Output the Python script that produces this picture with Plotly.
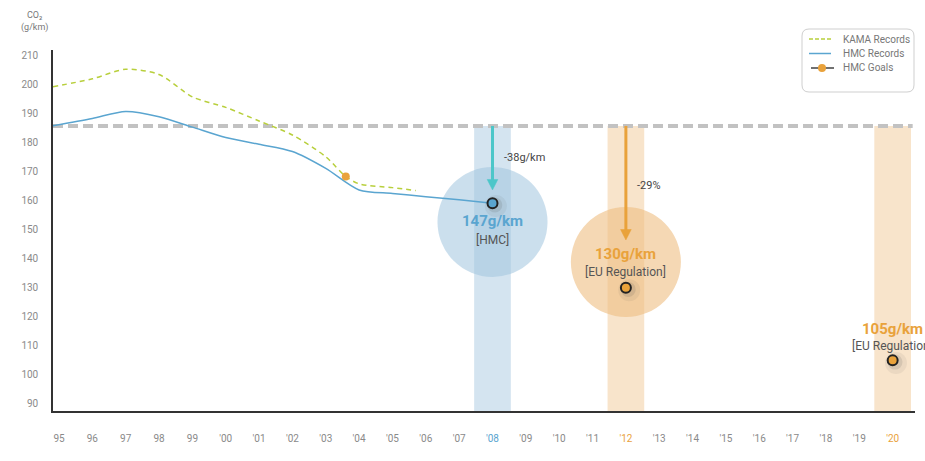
import plotly.graph_objects as go

# ---- data -------------------------------------------------------------
kama_years = [1994.82, 1996, 1997, 1998, 1999, 2000, 2001, 2002, 2003, 2003.6, 2004, 2005, 2005.7]
kama_vals = [199.1, 201.8, 205.1, 203.3, 195.6, 192.0, 187.3, 182.5, 175.0, 168.2, 165.7, 164.4, 163.4]

hmc_years = [1994.82, 1996, 1997, 1998, 1999, 2000, 2001, 2002, 2003, 2004, 2005, 2006, 2007, 2008]
hmc_vals = [185.7, 188.2, 190.6, 188.8, 185.2, 181.6, 179.3, 176.8, 171.0, 163.6, 162.4, 161.3, 160.2, 159.0]

goal_years = [2003.6, 2012, 2020]
goal_vals = [168.2, 130, 105]

baseline = 185.6           # reference level for the reduction arrows
target_hmc = 147           # 2008 HMC figure
target_eu12 = 130
target_eu20 = 105
arrow_tips = [163.6, 146.4]

tick_years = list(range(1995, 2021))
tick_labels = ["95", "96", "97", "98", "99", "'00", "'01", "'02", "'03", "'04", "'05", "'06", "'07",
               "'08", "'09", "'10", "'11", "'12", "'13", "'14", "'15", "'16", "'17", "'18", "'19", "'20"]
y_ticks = list(range(90, 211, 10))

# ---- style ------------------------------------------------------------
KAMA_C = "#b8cf3c"
HMC_C = "#5aa5d0"
ORANGE = "#e9a23b"
TEAL = "#4cc6c9"
GREY_TXT = "#8a8a8a"
FONT = "Roboto"

X_RANGE = [1994.82, 2020.67]
Y_RANGE = [87.59, 211.72]

hl = {"2008": HMC_C, "2012": ORANGE, "2020": ORANGE}
ticktext = []
for yr, lab in zip(tick_years, tick_labels):
    c = hl.get(str(yr))
    ticktext.append(f"<span style='color:{c}'>{lab}</span>" if c else lab)

fig = go.Figure()

# lines
fig.add_trace(go.Scatter(x=kama_years, y=kama_vals, mode="lines", name="KAMA Records",
                         line=dict(color=KAMA_C, width=1.5, dash="5px,4px", shape="spline", smoothing=0.8),
                         hoverinfo="skip"))
fig.add_trace(go.Scatter(x=hmc_years, y=hmc_vals, mode="lines", name="HMC Records",
                         line=dict(color=HMC_C, width=1.5, shape="spline", smoothing=0.8),
                         hoverinfo="skip"))

# soft shadows under the goal points
sh_x = [hmc_years[-1]] + goal_years[1:]
sh_y = [hmc_vals[-1]] + goal_vals[1:]
fig.add_trace(go.Scatter(x=[v + 0.1 for v in sh_x], y=[v - 0.9 for v in sh_y], mode="markers",
                         marker=dict(size=22, color="rgba(70,70,70,0.07)"), hoverinfo="skip"))
fig.add_trace(go.Scatter(x=[v + 0.07 for v in sh_x], y=[v - 0.6 for v in sh_y], mode="markers",
                         marker=dict(size=15, color="rgba(70,70,70,0.13)"), hoverinfo="skip"))

# markers
fig.add_trace(go.Scatter(x=[hmc_years[-1]], y=[hmc_vals[-1]], mode="markers",
                         marker=dict(size=10, color=HMC_C, line=dict(color="#222", width=2)),
                         hoverinfo="skip"))
fig.add_trace(go.Scatter(x=goal_years[1:], y=goal_vals[1:], mode="markers",
                         marker=dict(size=10, color=ORANGE, line=dict(color="#222", width=2)),
                         hoverinfo="skip"))
fig.add_trace(go.Scatter(x=goal_years[:1], y=goal_vals[:1], mode="markers",
                         marker=dict(size=8, color=ORANGE), hoverinfo="skip"))

shapes = []
# vertical bands
for yr, col in [(2008, "rgba(160,196,222,0.45)"), (2012, "rgba(238,190,130,0.42)"),
                (2020, "rgba(238,190,130,0.42)")]:
    shapes.append(dict(type="rect", xref="x", yref="y", x0=yr - 0.55, x1=yr + 0.55,
                       y0=Y_RANGE[0], y1=baseline, fillcolor=col, line_width=0, layer="below"))
# circles
rx, ry = 1.65, 18.9
for cx, cy, col in [(2008, 152.6, "rgba(160,196,222,0.55)"), (2012, 138.8, "rgba(238,190,130,0.6)")]:
    shapes.append(dict(type="circle", xref="x", yref="y", x0=cx - rx, x1=cx + rx,
                       y0=cy - ry, y1=cy + ry, fillcolor=col, line_width=0, layer="below"))
# baseline
shapes.append(dict(type="line", xref="x", yref="y", x0=X_RANGE[0], x1=2020.6, y0=baseline, y1=baseline,
                   line=dict(color="#c2c2c2", width=4, dash="10px,5px"), layer="below"))

# reduction arrows (shaft + triangular head)
head_len, head_half = 3.6, 0.16
for xx, tip, col in [(2008, arrow_tips[0], TEAL), (2012, arrow_tips[1], ORANGE)]:
    shapes.append(dict(type="line", xref="x", yref="y", x0=xx, x1=xx, y0=baseline, y1=tip + head_len * 0.7,
                       line=dict(color=col, width=3)))
    shapes.append(dict(type="path", xref="x", yref="y",
                       path=f"M {xx - head_half},{tip + head_len} L {xx + head_half},{tip + head_len} "
                            f"L {xx},{tip} Z",
                       fillcolor=col, line=dict(color=col, width=0.5)))

# legend box (pixel -> paper)
PL, PW, PT, PH = 53, 862, 50, 361
def px(x):
    return (x - PL) / PW
def py(y):
    return (PT + PH - y) / PH

bx0, bx1, by0, by1, r = 802, 914, 29, 92, 7
path = (f"M {px(bx0 + r)},{py(by0)} L {px(bx1 - r)},{py(by0)} "
        f"Q {px(bx1)},{py(by0)} {px(bx1)},{py(by0 + r)} L {px(bx1)},{py(by1 - r)} "
        f"Q {px(bx1)},{py(by1)} {px(bx1 - r)},{py(by1)} L {px(bx0 + r)},{py(by1)} "
        f"Q {px(bx0)},{py(by1)} {px(bx0)},{py(by1 - r)} L {px(bx0)},{py(by0 + r)} "
        f"Q {px(bx0)},{py(by0)} {px(bx0 + r)},{py(by0)} Z")
shapes.append(dict(type="path", xref="paper", yref="paper", path=path,
                   fillcolor="white", line=dict(color="#cfcfcf", width=1)))
shapes.append(dict(type="line", xref="paper", yref="paper", x0=px(809), x1=px(831), y0=py(39), y1=py(39),
                   line=dict(color=KAMA_C, width=1.5, dash="4px,2px")))
shapes.append(dict(type="line", xref="paper", yref="paper", x0=px(809), x1=px(831), y0=py(53.5), y1=py(53.5),
                   line=dict(color=HMC_C, width=1.5)))
shapes.append(dict(type="line", xref="paper", yref="paper", x0=px(811), x1=px(834), y0=py(68), y1=py(68),
                   line=dict(color="#111", width=1.2)))
shapes.append(dict(type="circle", xref="paper", yref="paper", x0=px(818), x1=px(826), y0=py(72), y1=py(64),
                   fillcolor=ORANGE, line_width=0))

annotations = []
for lab, yy in [("KAMA Records", 39), ("HMC Records", 53.5), ("HMC Goals", 68)]:
    annotations.append(dict(xref="paper", yref="paper", x=px(841), y=py(yy), text=lab, showarrow=False,
                            xanchor="left", yanchor="middle", font=dict(size=10, color="#777", family=FONT)))

# axis title
annotations.append(dict(xref="paper", yref="paper", x=px(34.5), y=py(15.5), text="CO₂",
                        showarrow=False, xanchor="center", yanchor="middle",
                        font=dict(size=9, color="#777", family=FONT)))
annotations.append(dict(xref="paper", yref="paper", x=px(34.5), y=py(27.5), text="(g/km)",
                        showarrow=False, xanchor="center", yanchor="middle",
                        font=dict(size=9, color="#777", family=FONT)))

# reduction labels
annotations.append(dict(x=2008, y=174.9, xref="x", yref="y", text="-38g/km", showarrow=False,
                        xanchor="left", xshift=9, yanchor="middle",
                        font=dict(size=11, color="#444", family=FONT)))
annotations.append(dict(x=2012, y=165.3, xref="x", yref="y", text="-29%", showarrow=False,
                        xanchor="left", xshift=9, yanchor="middle",
                        font=dict(size=11, color="#444", family=FONT)))

# value labels
for xx, yv, ys, val, sub, col in [(2008, 152.9, 146.4, target_hmc, "[HMC]", HMC_C),
                                  (2012, 141.6, 135.4, target_eu12, "[EU Regulation]", ORANGE),
                                  (2020, 115.8, 109.9, target_eu20, "[EU Regulation]", ORANGE)]:
    annotations.append(dict(x=xx, y=yv, xref="x", yref="y", text=f"<b>{val}g/km</b>", showarrow=False,
                            xanchor="center", yanchor="middle",
                            font=dict(size=15, color=col, family=FONT)))
    annotations.append(dict(x=xx, y=ys, xref="x", yref="y", text=sub, showarrow=False,
                            xanchor="center", yanchor="middle",
                            font=dict(size=12, color="#555", family=FONT)))

fig.update_layout(
    width=925, height=461,
    margin=dict(l=PL, r=925 - PL - PW, t=PT, b=461 - PT - PH),
    paper_bgcolor="white", plot_bgcolor="white",
    showlegend=False,
    shapes=shapes, annotations=annotations,
    xaxis=dict(range=X_RANGE, tickvals=tick_years, ticktext=ticktext, showgrid=False, zeroline=False,
               showline=True, linecolor="#333", linewidth=1.5, ticks="", ticklabelstandoff=17,
               tickfont=dict(size=10, color=GREY_TXT, family=FONT), fixedrange=True),
    yaxis=dict(range=Y_RANGE, tickvals=y_ticks, showgrid=False, zeroline=False,
               showline=True, linecolor="#333", linewidth=1.5, ticks="", ticklabelstandoff=11,
               tickfont=dict(size=10, color=GREY_TXT, family=FONT), fixedrange=True),
)

fig.write_html("out.html")
